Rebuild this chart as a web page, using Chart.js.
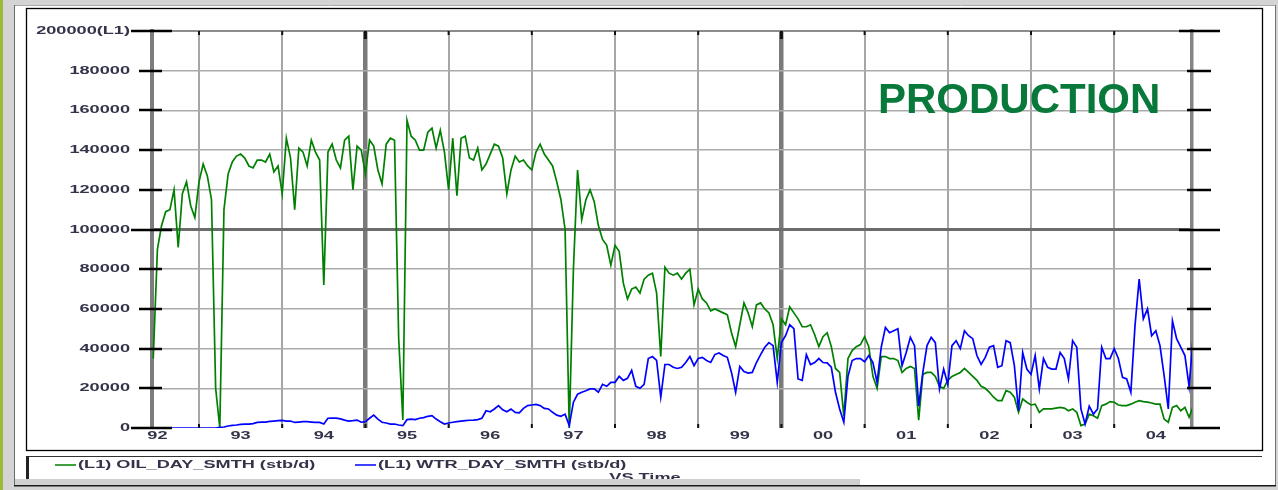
<!DOCTYPE html>
<html><head><meta charset="utf-8">
<script src="https://cdn.jsdelivr.net/npm/chart.js@4.4.1/dist/chart.umd.min.js"></script>
<style>html,body{margin:0;padding:0;background:#d4d4d4;overflow:hidden}canvas{display:block}</style>
</head><body>
<canvas id="c" width="1278" height="490"></canvas>
<script>
// ---------------- data ----------------
const START_YEAR = 1992.45;   // first sample (decimal year)
const STEP_YEAR = 0.05;       // sampling interval of the read-off values

const oilRate = [
35000,90000,102000,109000,110000,120000,91000,118000,124000,112000,
106000,124000,133000,127000,115000,20000,0,110000,128000,134000,
137000,138000,136000,132000,131000,135000,135000,134000,138000,129000,
132000,118000,146000,136000,110000,141000,139000,132000,145000,139000,
135000,72000,139000,143000,135000,131000,145000,147000,120000,142000,
140000,128000,145000,142000,130000,123000,143000,146000,145000,45000,
4000,155000,147000,145000,140000,140000,149000,151000,141000,150000,
139000,120000,146000,117000,146000,147000,136000,135000,141000,130000,
133000,138000,143000,142000,136000,118000,130000,137000,134000,135000,
132000,130000,139000,143000,138000,135000,132000,124000,115000,100000,
0,80000,130000,105000,115000,120000,114000,102000,95000,92000,
82000,92000,89000,73000,65000,70000,71000,68000,75000,77000,
78000,68000,36000,81000,78000,77000,78000,75000,78000,80000,
62000,70000,65000,63000,59000,60000,59000,58000,57000,48000,
41000,52000,63000,58000,51000,62000,63000,60000,58000,52000,
35000,55000,52000,61000,58000,55000,51000,51000,52000,47000,
41000,46000,48000,41000,30000,28000,6000,35000,39000,41000,
42000,46000,41000,26000,20000,36000,36000,35000,35000,34000,
28000,30000,31000,30000,4000,27000,28000,28000,26000,21000,
20000,24000,26000,27000,28000,30000,28000,26000,24000,21000,
20000,18000,15500,13800,13800,18800,18000,15500,7900,14600,
13000,11600,12000,7900,9600,9600,9600,10000,10400,10000,
8700,9600,7900,1200,2000,7000,6200,4900,11300,12000,
13300,13000,11600,11300,11300,12000,13000,13800,13300,13000,
12600,12000,12000,4500,2900,10400,11300,8700,10400,5400,
11000
];

const waterRate = [
0,0,0,0,0,0,0,0,0,0,
0,0,0,0,0,0,300,500,1000,1300,
1500,1800,2000,2000,2200,2800,3000,3000,3300,3500,
3700,3800,3500,3500,2800,3000,3200,3200,3000,2800,
2800,2000,4900,5000,5000,4600,4000,3500,3700,4000,
2900,3200,4900,6500,4500,2900,2500,2000,2000,1500,
1200,4200,4500,4200,4900,5200,5900,6200,4500,3200,
2000,2500,2900,3200,3500,3700,3900,4000,4200,4900,
8700,8200,9600,11300,9200,8200,9600,7900,7600,9900,
11300,11600,11900,11300,9900,9600,7900,6500,5900,7000,
1200,13000,17000,18000,18800,19700,19700,18000,22000,21000,
23000,23000,26000,24000,25000,29000,21000,20000,22000,35000,
36000,34000,15500,32000,32000,30600,30000,30600,33000,36000,
31400,35000,35600,34000,33000,37000,37800,36500,35600,28000,
18000,31000,28400,27700,28000,33000,37000,40700,43000,41500,
23000,43000,46500,52000,50000,24700,24000,37000,32000,33000,
35000,33000,32800,30600,18000,9600,2900,26000,34000,35000,
35000,33400,36500,33000,23000,40700,50700,48000,49000,50000,
31400,38000,45700,41500,11000,28000,41500,45700,43000,19700,
29700,22000,41500,44000,40000,49000,46500,45000,36500,32000,
35600,40700,41500,30600,31400,44000,43000,31400,8700,38000,
29700,27000,36500,19700,35000,30600,29700,29700,38000,35000,
24700,44000,40700,9600,2000,11000,7000,9600,40700,35000,
35000,40000,35000,25500,24700,18000,51600,75000,55000,60000,
46500,49000,41500,26400,9600,54000,45000,40700,36500,21000,
46000
];

const yearLabels = ['92','93','94','95','96','97','98','99','00','01','02','03','04'];
const labelYears = [1992.5,1993.5,1994.5,1995.5,1996.5,1997.5,1998.5,1999.5,2000.5,2001.5,2002.5,2003.5,2004.5];
const gridYears  = [1993,1994,1995,1996,1997,1998,1999,2000,2001,2002,2003,2004];
const majorGridYears = [1995,2000];
const yTickValues = [0,20000,40000,60000,80000,100000,120000,140000,160000,180000,200000];
const yTickLabels = ['0','20000','40000','60000','80000','100000','120000','140000','160000','180000','200000(L1)'];
const seriesNames = ['(L1) OIL_DAY_SMTH (stb/d)','(L1) WTR_DAY_SMTH (stb/d)'];
const xTitle = 'VS Time';
const annotationText = 'PRODUCTION';

// ---------------- rendering ----------------
const X_MIN = 1992.435, X_MAX = 2004.935;
const TXT = '#33334a';
const FONT = "'Liberation Sans', Arial, sans-serif";
const SX = 1.65; // horizontal text stretch of the original screenshot

const canvas = document.getElementById('c');
const ctx = canvas.getContext('2d');
const rawFill = ctx.fillText.bind(ctx);
const rawMeasure = ctx.measureText.bind(ctx);
ctx.fillText = function(t, x, y) {
  this.save(); this.translate(x, y); this.scale(SX, 1); rawFill(t, 0, 0); this.restore();
};
ctx.measureText = function(t) {
  const m = rawMeasure(t);
  return { width: m.width * SX,
    actualBoundingBoxAscent: m.actualBoundingBoxAscent, actualBoundingBoxDescent: m.actualBoundingBoxDescent,
    actualBoundingBoxLeft: m.actualBoundingBoxLeft * SX, actualBoundingBoxRight: m.actualBoundingBoxRight * SX,
    fontBoundingBoxAscent: m.fontBoundingBoxAscent, fontBoundingBoxDescent: m.fontBoundingBoxDescent };
};

const toPoints = arr => arr.map((v, i) => ({ x: START_YEAR + i * STEP_YEAR, y: v }));

function line(c, x1, y1, x2, y2, color, w) {
  c.beginPath(); c.strokeStyle = color; c.lineWidth = w;
  c.moveTo(x1, y1); c.lineTo(x2, y2); c.stroke();
}

const framePlugin = {
  id: 'frame',
  beforeDraw(chart) {
    const c = chart.ctx;
    c.save();
    c.fillStyle = '#d4d4d4'; c.fillRect(0, 0, chart.width, chart.height);
    c.fillStyle = '#9ab83a'; c.fillRect(0, 0, 3, chart.height);
    c.fillStyle = '#ffffff'; c.fillRect(14, 5, 1262, 481);
    c.restore();
  },
  afterDatasetsDraw(chart) {
    const c = chart.ctx;
    c.save();
    c.font = 'bold 42px ' + FONT;
    c.fillStyle = '#08793b';
    c.textAlign = 'left'; c.textBaseline = 'alphabetic';
    rawFill(annotationText, 878, 112.5);
    c.restore();
  },
  afterDraw(chart) {
    const c = chart.ctx, ys = chart.scales.y, xg = chart.scales.xg, a = chart.chartArea;
    c.save();
    yTickValues.forEach(v => {
      const p = Math.round(ys.getPixelForValue(v));
      const big = (v === 0 || v === 100000 || v === 200000);
      if (big) { line(c, 131, p, 172, p, '#000', 2.5); line(c, 1179, p, 1220, p, '#000', 2.5); }
      else { line(c, 139, p, 162, p, '#000', 2.5); line(c, 1187, p, 1211, p, '#000', 2.5); }
    });
    gridYears.forEach(yr => {
      const p = xg.getPixelForValue(yr);
      const maj = majorGridYears.includes(yr);
      line(c, p, a.top, p, a.top + (maj ? 8 : 4), '#111', maj ? 3 : 2);
      line(c, p, a.bottom - 4, p, a.bottom, '#111', 2);
    });
    line(c, 14, 5.5, 1276, 5.5, '#a8a8a8', 1);
    line(c, 14.5, 5, 14.5, 486, '#6a6a6a', 1);
    line(c, 1275.5, 5, 1275.5, 486, '#707070', 1);
    c.strokeStyle = '#000'; c.lineWidth = 1.3; c.strokeRect(26.5, 8.5, 1236, 442);
    line(c, 26, 456.5, 1262, 456.5, '#333', 1);
    line(c, 27.5, 456, 27.5, 479, '#222', 3);
    const items = [
      { x: 55, color: chart.data.datasets[0].borderColor, text: chart.data.datasets[0].label },
      { x: 355, color: chart.data.datasets[1].borderColor, text: chart.data.datasets[1].label }
    ];
    c.font = 'bold 11px ' + FONT; c.textAlign = 'left'; c.textBaseline = 'middle';
    items.forEach(it => {
      line(c, it.x, 465, it.x + 21, 465, it.color, 1.5);
      c.fillStyle = TXT;
      c.fillText(it.text, it.x + 23, 465);
    });
    c.textAlign = 'center'; c.textBaseline = 'alphabetic';
    c.fillText(xTitle, 645, 480.5);
    c.fillStyle = '#d0d0d0'; c.fillRect(15, 479, 845, 6);
    line(c, 14, 485.8, 1276, 485.8, '#1a1a1a', 1.4);
    c.restore();
  }
};

Chart.defaults.font.family = FONT;
Chart.defaults.font.size = 11;
Chart.defaults.font.weight = 'bold';

new Chart(ctx, {
  type: 'line',
  data: {
    datasets: [
      { label: seriesNames[0], data: toPoints(oilRate), borderColor: '#008000', borderWidth: 1.7,
        pointRadius: 0, tension: 0, order: 2, xAxisID: 'x', yAxisID: 'y' },
      { label: seriesNames[1], data: toPoints(waterRate), borderColor: '#0000ff', borderWidth: 1.7,
        pointRadius: 0, tension: 0, order: 1, xAxisID: 'x', yAxisID: 'y' }
    ]
  },
  options: {
    responsive: false, animation: false, devicePixelRatio: 1, events: [],
    layout: { padding: { top: 31, right: 86, bottom: 46, left: 0 } },
    plugins: { legend: { display: false }, tooltip: { enabled: false } },
    scales: {
      x: {
        type: 'linear', position: 'bottom', min: X_MIN, max: X_MAX,
        grid: { display: false, drawTicks: false }, border: { display: false },
        ticks: { autoSkip: false, maxRotation: 0, padding: 1.5, color: TXT,
                 callback: (v, i) => yearLabels[i] },
        afterBuildTicks: s => { s.ticks = labelYears.map(v => ({ value: v })); },
        afterFit: s => { s.height = 16; }
      },
      xg: {
        type: 'linear', position: 'top', min: X_MIN, max: X_MAX,
        grid: { drawTicks: false,
                color: c => majorGridYears.includes(c.tick && c.tick.value) ? '#7a7a7a' : '#a6a6a6',
                lineWidth: c => majorGridYears.includes(c.tick && c.tick.value) ? 4.5 : 2 },
        border: { display: false },
        ticks: { display: false },
        afterBuildTicks: s => { s.ticks = gridYears.map(v => ({ value: v })); },
        afterFit: s => { s.height = 0; }
      },
      y: {
        type: 'linear', position: 'left', min: 0, max: 200000,
        grid: { drawTicks: false,
                color: c => { const v = c.tick && c.tick.value;
                  return v === 100000 ? '#6c6c6c' : v === 200000 ? '#8c8c8c' : v === 0 ? 'rgba(0,0,0,0)' : '#ababab'; },
                lineWidth: c => { const v = c.tick && c.tick.value;
                  return v === 100000 ? 3 : v === 200000 ? 2 : 1.5; } },
        border: { display: true, color: '#7d7d7d', width: 4 },
        ticks: { padding: 22, color: TXT, callback: (v, i) => yTickLabels[i] },
        afterBuildTicks: s => { s.ticks = yTickValues.map(v => ({ value: v })); },
        afterFit: s => { s.width = 152; }
      },
      yr: {
        type: 'linear', position: 'right', min: 0, max: 200000,
        grid: { display: false, drawTicks: false }, ticks: { display: false },
        border: { display: true, color: '#858585', width: 3.5 },
        afterFit: s => { s.width = 0; }
      }
    }
  },
  plugins: [framePlugin]
});
</script>
</body></html>
